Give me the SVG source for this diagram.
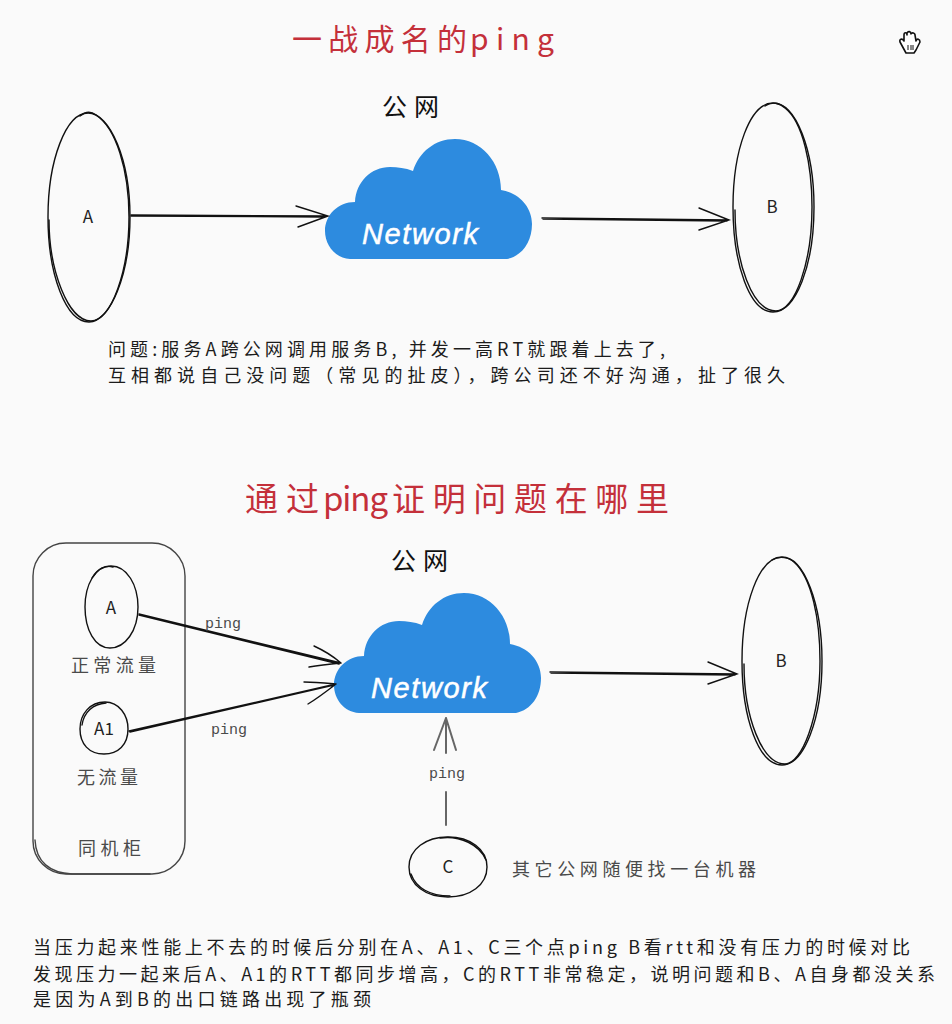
<svg xmlns="http://www.w3.org/2000/svg" width="952" height="1024" viewBox="0 0 952 1024">
<style>
text{font-family:"Noto Sans CJK SC","Liberation Sans",sans-serif;font-weight:400}
.d{font-size:18px;fill:#1c1c1c}
.g{font-size:18px;fill:#4a4a4a}
.n{font-size:17px;fill:#222;text-anchor:middle}
.p{font-size:15px;fill:#4a4a4a;font-family:"Liberation Mono",monospace}
.r{fill:#c4303a}
.s{fill:none;stroke:#111;stroke-width:1.4;stroke-linecap:round}
.s2{fill:none;stroke:#444;stroke-width:1.4;stroke-linecap:round}
.c{fill:#2d8bdf}
.w{fill:#fff;stroke:#fff;stroke-width:.5;font-size:29px;font-style:italic;font-family:"Liberation Sans",sans-serif}
</style>
<defs>
<path id="cloud" class="c" d="M350 259C335 258 325 245 325 231C325 215 338 202 355 202C356 182 371 167 390 167C398 167 405 168 413 171C419 152 435 139 455 139C481 139 501 162 501 190C519 193 532 207 532 224C532 242 522 256 507 259Z"/>
</defs>
<rect width="952" height="1024" fill="#fafafa"/>
<text id="title1" class="r" y="50" font-size="30"><tspan x="292" textLength="175">一战成名的</tspan><tspan x="470" textLength="84">ping</tspan></text>
<g id="hand" fill="#fff" stroke="#111" stroke-width="1.6" stroke-linejoin="round"><path d="M906 53L900 42C899 39 902 38 904 41V35C904 32 907 32 907 35V33C908 31 911 31 911 34V34C912 32 915 33 915 35L916 41C917 38 920 39 920 42L916 50L914 53H908Z"/><path d="M908 45V50M911 45V50M913 45V50" stroke-width="1"/></g>
<text id="net1label" x="382" y="116" font-size="25" fill="#111" textLength="57">公网</text>
<g id="nodeA1"><path class="s" d="M88 113C110 113 130 160 130 217C130 275 110 322 89 322C66 322 48 275 48 217C48 160 66 113 88 113Z"/><path class="s" d="M80 116C86 111 92 112 96 115C116 128 129 170 129 217C129 270 112 320 91 321C68 321 49 270 49 220"/><text class="n" x="88" y="223">A</text></g>
<g id="nodeCloud1"><use href="#cloud"/><text class="w" x="362" y="244" textLength="116">Network</text></g>
<g id="nodeB1"><path class="s" d="M773 103C796 103 814 150 814 207C814 265 796 312 773 312C750 312 733 265 733 207C733 150 750 103 773 103Z"/><path class="s" d="M765 106C772 101 780 103 785 108C803 122 812 165 812 207C812 262 795 311 776 311C752 311 735 262 735 210"/><text class="n" x="772" y="213">B</text></g>
<g id="connectors1"><path class="s" d="M131 215L327 216M131 216L325 217M296 206L328 216L298 227"/><path class="s" d="M542 218L729 220M543 219L727 221M699 208L729 220L699 230"/></g>
<text id="desc1" class="d"><tspan x="108" y="356" textLength="557">问题:服务A跨公网调用服务B, 并发一高RT就跟着上去了,</tspan><tspan x="108" y="382" textLength="677">互相都说自己没问题（常见的扯皮），跨公司还不好沟通，扯了很久</tspan></text>
<text id="title2" class="r" y="511" font-size="33"><tspan x="245" textLength="74">通过</tspan><tspan x="323" textLength="65">ping</tspan><tspan x="392" textLength="277">证明问题在哪里</tspan></text>
<text id="net2label" x="391" y="570" font-size="25" fill="#111" textLength="57">公网</text>
<g id="rack"><rect class="s2" x="33" y="543" width="152" height="331" rx="33"/><path class="s2" d="M35 840C36 862 50 873 72 874H150"/><text class="g" x="78" y="855" textLength="63">同机柜</text></g>
<g id="nodeA2"><path class="s" d="M111 566C127 566 138 585 138 607C138 631 125 648 110 648C95 648 85 630 85 607C85 585 95 566 111 566Z"/><path class="s" d="M92 578C98 568 106 565 113 567"/><text class="n" x="111" y="614">A</text><text class="g" x="71" y="672" textLength="85">正常流量</text></g>
<g id="nodeA3"><path class="s" d="M105 702C119 702 128 715 128 729C128 745 118 754 104 754C89 754 80 744 80 729C80 714 90 702 105 702Z"/><path class="s" d="M82 725C84 712 93 704 106 703"/><text class="n" x="104" y="735">A1</text><text class="g" x="77" y="784" textLength="61">无流量</text></g>
<g id="nodeCloud2"><use href="#cloud" x="9" y="454"/><text class="w" x="371" y="698" textLength="116">Network</text></g>
<g id="nodeB2"><path class="s" d="M782 557C804 557 822 604 822 661C822 719 804 765 782 765C759 765 742 719 742 661C742 604 759 557 782 557Z"/><path class="s" d="M772 560C780 555 790 558 794 562C812 578 820 620 820 661C820 717 802 764 785 764C762 764 744 717 744 664"/><text class="n" x="781" y="667">B</text></g>
<g id="nodeC"><path class="s" d="M448 837C470 837 487 849 487 867C487 885 470 897 448 897C426 897 409 885 409 867C409 849 426 837 448 837Z"/><path class="s" d="M411 874C416 888 430 896 450 896M440 838C460 835 480 845 486 860"/><text class="n" x="448" y="873">C</text></g>
<text id="cLabel" class="g" x="512" y="876" textLength="244">其它公网随便找一台机器</text>
<g id="connectors2"><path class="s" d="M139 614L341 663M139 615L339 664M314 646C325 651 334 657 341 663M309 667C320 665 330 664 341 663"/><path class="s" d="M129 731L336 684M130 732L334 685M304 682C315 682 325 683 336 684M308 704C318 698 327 691 336 684"/><path class="s" d="M550 672L737 674M551 673L735 675M708 662L737 674L708 684"/><path d="M446 825V792M446 753V718M446 718L434 750M446 718L456 750" fill="none" stroke="#666" stroke-width="2" stroke-linecap="round"/></g>
<g id="pingLabels"><text class="p" x="205" y="628">ping</text><text class="p" x="211" y="734">ping</text><text class="p" x="429" y="778">ping</text></g>
<text id="desc2" class="d"><tspan x="33" y="954" textLength="877">当压力起来性能上不去的时候后分别在A、A1、C三个点ping B看rtt和没有压力的时候对比</tspan><tspan x="33" y="981" textLength="902">发现压力一起来后A、A1的RTT都同步增高，C的RTT非常稳定，说明问题和B、A自身都没关系</tspan><tspan x="33" y="1006" textLength="338">是因为A到B的出口链路出现了瓶颈</tspan></text>
</svg>
